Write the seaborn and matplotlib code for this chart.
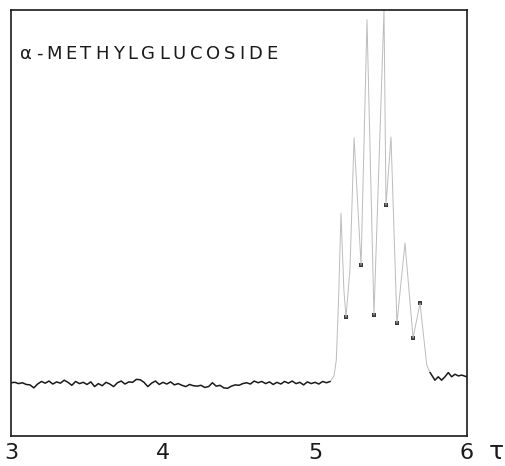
import numpy as np
import pandas as pd
import matplotlib
matplotlib.use("Agg")
import matplotlib.pyplot as plt
import seaborn as sns

# ============================================================
# DATA  (intensity 0-100 = frame height)
# ============================================================

# flat baseline, tau 3.00 -> 5.10
base_left_tau = [
    3.000, 3.025, 3.050, 3.075, 3.100, 3.125, 3.150, 3.175, 3.200, 3.225,
    3.250, 3.275, 3.300, 3.325, 3.350, 3.375, 3.400, 3.425, 3.450, 3.475,
    3.500, 3.525, 3.550, 3.575, 3.600, 3.625, 3.650, 3.675, 3.700, 3.725,
    3.750, 3.775, 3.800, 3.825, 3.850, 3.875, 3.900, 3.925, 3.950, 3.975,
    4.000, 4.025, 4.050, 4.075, 4.100, 4.125, 4.150, 4.175, 4.200, 4.225,
    4.250, 4.275, 4.300, 4.325, 4.350, 4.375, 4.400, 4.425, 4.450, 4.475,
    4.500, 4.525, 4.550, 4.575, 4.600, 4.625, 4.650, 4.675, 4.700, 4.725,
    4.750, 4.775, 4.800, 4.825, 4.850, 4.875, 4.900, 4.925, 4.950, 4.975,
    5.000, 5.025, 5.050, 5.075, 5.100,
]
base_left_int = [
    12.5, 12.6, 12.3, 12.5, 12.1, 12.0, 11.3, 12.2, 12.8, 12.4,
    12.9, 12.2, 12.7, 12.4, 13.1, 12.6, 11.9, 12.8, 12.3, 12.6,
    12.1, 12.7, 11.6, 12.3, 11.8, 12.6, 12.2, 11.6, 12.5, 12.9,
    12.2, 12.7, 12.6, 13.3, 13.2, 12.6, 11.6, 12.4, 12.9, 12.1,
    12.6, 12.2, 12.7, 12.0, 12.3, 11.9, 11.6, 12.1, 11.8, 11.7,
    11.9, 11.4, 11.6, 12.5, 11.7, 11.9, 11.3, 11.2, 11.7, 12.0,
    11.9, 12.3, 12.5, 12.2, 12.9, 12.5, 12.8, 12.3, 12.7, 12.1,
    12.6, 12.2, 12.8, 12.4, 12.9, 12.3, 12.6, 12.0, 12.7, 12.3,
    12.6, 12.2, 12.8, 12.5, 12.8,
]

# sugar ring-proton multiplet, tau 5.10 -> 5.76
multiplet_tau = [
    5.100, 5.125, 5.140, 5.155, 5.171, 5.190, 5.204, 5.230, 5.257, 5.276,
    5.303, 5.342, 5.388, 5.454, 5.467, 5.500, 5.539, 5.592, 5.645, 5.691,
    5.735, 5.757,
]
multiplet_int = [
    12.8, 14.1, 17.8, 31.9, 52.3, 34.3, 27.9, 39.0, 70.0, 57.7,
    40.1, 97.7, 28.4, 100.0, 54.2, 70.2, 26.5, 45.3, 23.0, 31.2,
    16.7, 14.9,
]

# darker pen marks left where the pen turned (valleys of the multiplet)
valley_tau = [5.204, 5.303, 5.388, 5.467, 5.539, 5.645, 5.691]
valley_int = [27.9, 40.1, 28.4, 54.2, 26.5, 23.0, 31.2]

# baseline after the multiplet, tau 5.76 -> 6.00
base_right_tau = [5.757, 5.789, 5.811, 5.833, 5.855, 5.877, 5.899, 5.921, 5.943, 5.965, 5.998]
base_right_int = [14.9, 13.1, 13.9, 13.1, 13.9, 14.9, 13.9, 14.5, 14.1, 14.3, 13.9]

tick_values = [3, 4, 5, 6]
tick_labels = ['3', '4', '5', '6']
title_text = 'α-METHYLGLUCOSIDE'

# ============================================================
# FIGURE
# ============================================================

sns.set_style('white')
plt.rcParams['font.family'] = ['DejaVu Sans']

W, H = 506, 466
fig = plt.figure(figsize=(W / 100, H / 100), dpi=100)
ax = fig.add_axes([11 / W, 1 - 436 / H, (467 - 11) / W, (436 - 10) / H])

left_df   = pd.DataFrame({'tau': base_left_tau,  'intensity': base_left_int})
mult_df   = pd.DataFrame({'tau': multiplet_tau,  'intensity': multiplet_int})
right_df  = pd.DataFrame({'tau': base_right_tau, 'intensity': base_right_int})
valley_df = pd.DataFrame({'tau': valley_tau,     'intensity': valley_int})

sns.lineplot(data=mult_df, x='tau', y='intensity', sort=False, estimator=None,
             color='#bcbcbc', linewidth=0.7, ax=ax)
sns.scatterplot(data=valley_df, x='tau', y='intensity', color='#3a3a3a',
                s=5, marker='s', linewidth=0, ax=ax)
sns.lineplot(data=left_df, x='tau', y='intensity', sort=False, estimator=None,
             color='#1a1a1a', linewidth=1.1, ax=ax)
sns.lineplot(data=right_df, x='tau', y='intensity', sort=False, estimator=None,
             color='#1a1a1a', linewidth=1.1, ax=ax)

ax.set_xlim(3, 6)
ax.set_ylim(0, 100)
ax.set_xlabel('')
ax.set_ylabel('')
ax.set_yticks([])
ax.set_xticks(tick_values)
ax.set_xticklabels(tick_labels)
ax.tick_params(axis='x', direction='inout', length=6, width=1.0,
               color='#1a1a1a', labelsize=16, pad=2, labelcolor='#1a1a1a')

for side in ['left', 'right', 'top', 'bottom']:
    ax.spines[side].set_visible(True)
    ax.spines[side].set_color('#1a1a1a')
    ax.spines[side].set_linewidth(1.2)

# tau symbol after the last tick label
fig.text(496 / W, 1 - 452 / H, 'τ', fontsize=18, color='#1a1a1a',
         ha='center', va='center')

# title, letter-spaced like the original typewriter caption
fig.canvas.draw()
renderer = fig.canvas.get_renderer()
letters = []
for ch in title_text:
    t = fig.text(0, 1 - 59 / H, ch, fontsize=13, color='#1a1a1a', va='baseline')
    letters.append(t)
widths = [t.get_window_extent(renderer).width for t in letters]
gap = (257 - sum(widths)) / (len(letters) - 1)
x = 20.0
for t, w in zip(letters, widths):
    t.set_x(x / W)
    x += w + gap

fig.savefig('out.png', dpi=100)
